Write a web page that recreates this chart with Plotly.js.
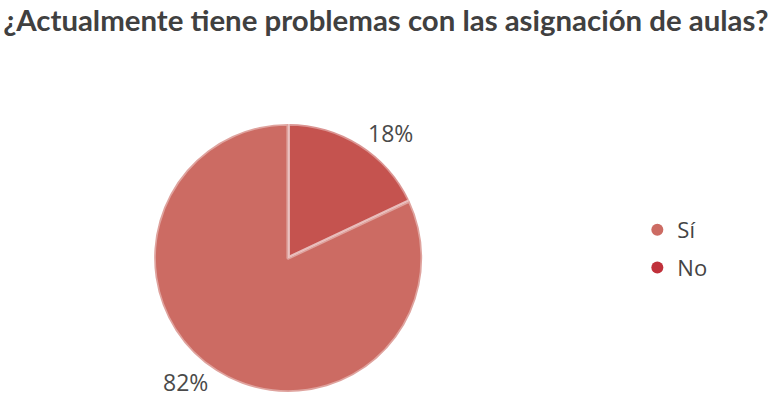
<!DOCTYPE html>
<html><head><meta charset="utf-8">
<script src="https://cdn.plot.ly/plotly-3.0.1.min.js"></script>
<style>html,body{margin:0;padding:0;background:#fff}</style>
</head><body>
<div id="chart" style="width:782px;height:413px"></div>
<script>
// Slice order: "No" first so that, going clockwise from 12 o'clock, it fills the top-right wedge
const categories = ["No", "Sí"];
const values = [18, 82];
const sliceColors = ["#C5534F", "#CC6B63"];
const legendNames = ["Sí", "No"];
const legendColors = ["#CC6B63", "#C0303A"];
const chartTitle = "¿Actualmente tiene problemas con las asignación de aulas?";

const pie = {
  type: "pie",
  labels: categories,
  values: values,
  sort: false,
  direction: "clockwise",
  rotation: 0,
  marker: {colors: sliceColors, line: {color: "rgba(255,255,255,0.38)", width: 3.5}},
  textinfo: "percent",
  textposition: "outside",
  texttemplate: "%{percent:.0%}",
  textfont: {family: "Open Sans, sans-serif", size: 23, color: "#4a4a4a"},
  hoverinfo: "label+percent",
  showlegend: false,
  domain: {x: [0.197, 0.540], y: [0.051, 0.700]}
};
const legendTraces = legendNames.map((c, i) => ({
  type: "scatter", mode: "markers", x: [null], y: [null], name: c,
  legendgroup: "g" + i,
  marker: {color: legendColors[i], size: 12, symbol: "circle"},
  xaxis: "x", yaxis: "y"
}));

const layout = {
  width: 782, height: 413,
  margin: {l: 0, r: 0, t: 0, b: 0},
  paper_bgcolor: "#fff", plot_bgcolor: "#fff",
  title: {text: chartTitle, x: 0.004, xanchor: "left", y: 0.975, yanchor: "top",
          font: {family: "Lato, sans-serif", size: 29.4, color: "#404040", weight: "bold"}},
  xaxis: {visible: false, domain: [0.8, 0.81]},
  yaxis: {visible: false, domain: [0.5, 0.51]},
  showlegend: true,
  legend: {x: 0.815, y: 0.397, xanchor: "left", yanchor: "middle",
           font: {family: "Open Sans, sans-serif", size: 22, color: "#444"},
           itemsizing: "constant", tracegroupgap: 6, bgcolor: "rgba(0,0,0,0)"}
};
Plotly.newPlot("chart", [pie, ...legendTraces], layout, {displayModeBar: false, staticPlot: true});
</script>
</body></html>
